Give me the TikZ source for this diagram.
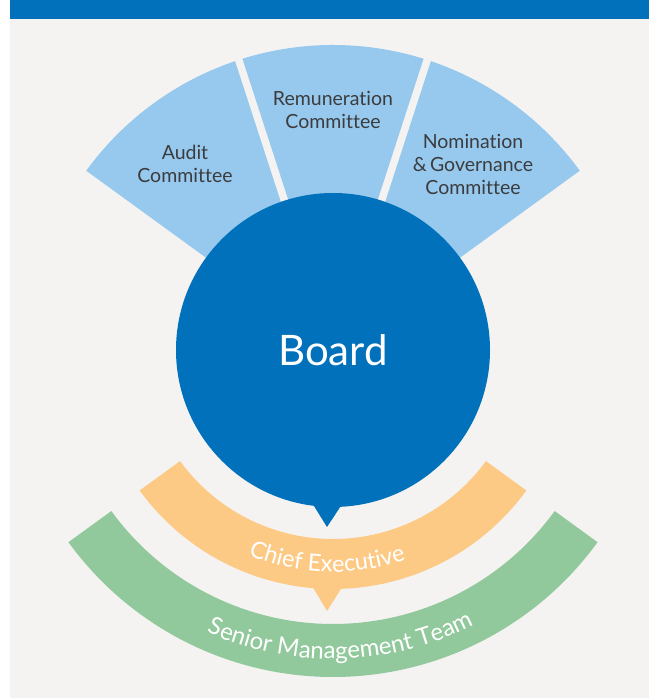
\documentclass[tikz,border=0pt]{standalone}
\usepackage{fontspec}
\setmainfont{Lato}
\usetikzlibrary{calc,decorations.text}
\definecolor{bgc}{RGB}{244,243,241}
\definecolor{topblue}{RGB}{0,113,186}
\definecolor{lightblue}{RGB}{150,201,237}
\definecolor{bandorange}{RGB}{253,202,133}
\definecolor{bandgreen}{RGB}{145,201,156}
\definecolor{txt}{RGB}{60,60,62}
\newfontfamily\labfont[Ligatures=NoCommon]{Lato}
\tikzset{
  comlabel/.style={align=center, text=txt, font=\labfont\fontsize{19.5}{23}\selectfont},
  gapline/.style={draw=bgc, line width=7.5pt}
}
\begin{document}
\begin{tikzpicture}[x=1pt,y=1pt]
\useasboundingbox (0,0) rectangle (649,698);
\fill[white] (0,0) rectangle (649,698);
\fill[bgc] (10,0) rectangle (649,679);
\fill[topblue] (10,679) rectangle (649,698);
\coordinate (C) at (333,348);
% committee fan
\fill[lightblue] (C) -- ($(C)+(36:305)$) arc[start angle=36,end angle=144,radius=305] -- cycle;
\draw[gapline] (C) -- ($(C)+(72:315)$);
\draw[gapline] (C) -- ($(C)+(108:315)$);
% bands
\fill[bandgreen] ($(C)+(216:274)$) arc[start angle=216,end angle=324,radius=274] -- ($(C)+(324:327)$) arc[start angle=324,end angle=216,radius=327] -- cycle;
\fill[bandorange] ($(C)+(216:189)$) arc[start angle=216,end angle=324,radius=189] -- ($(C)+(324:239)$) arc[start angle=324,end angle=216,radius=239] -- cycle;
\coordinate (ot) at (327,87);
\fill[bandorange] (311.5,113) -- (ot) -- (343.5,113) -- cycle;
% board
\fill[topblue] (C) circle[radius=157];
\coordinate (bt) at (327,171);
\fill[topblue] (311.5,196) -- (bt) -- (343.5,196) -- cycle;
\node[text=white, font=\labfont\fontsize{42}{50}\selectfont] (board) at (C) {Board};
% committee labels
\node[comlabel] (audit) at (185,534) {Audit\\Committee};
\node[comlabel] (remun) at (333,588) {Remuneration\\Committee};
\node[comlabel] (nomin) at (473,534) {Nomination\\\&\,Governance\\Committee};
% curved labels
\path[decorate, decoration={text along path, text align=center, text color=white,
  text={|\labfont\fontsize{23.5}{28}\selectfont|Chief Executive}}]
  ($(C)+(213.4:222)$) arc[start angle=213.4,end angle=323.4,radius=222];
\path[decorate, decoration={text along path, text align=center, text color=white,
  text={|\labfont\fontsize{24}{28}\selectfont|Senior Management Team}}]
  ($(C)+(216:309)$) arc[start angle=216,end angle=327,radius=309];
\end{tikzpicture}
\end{document}
